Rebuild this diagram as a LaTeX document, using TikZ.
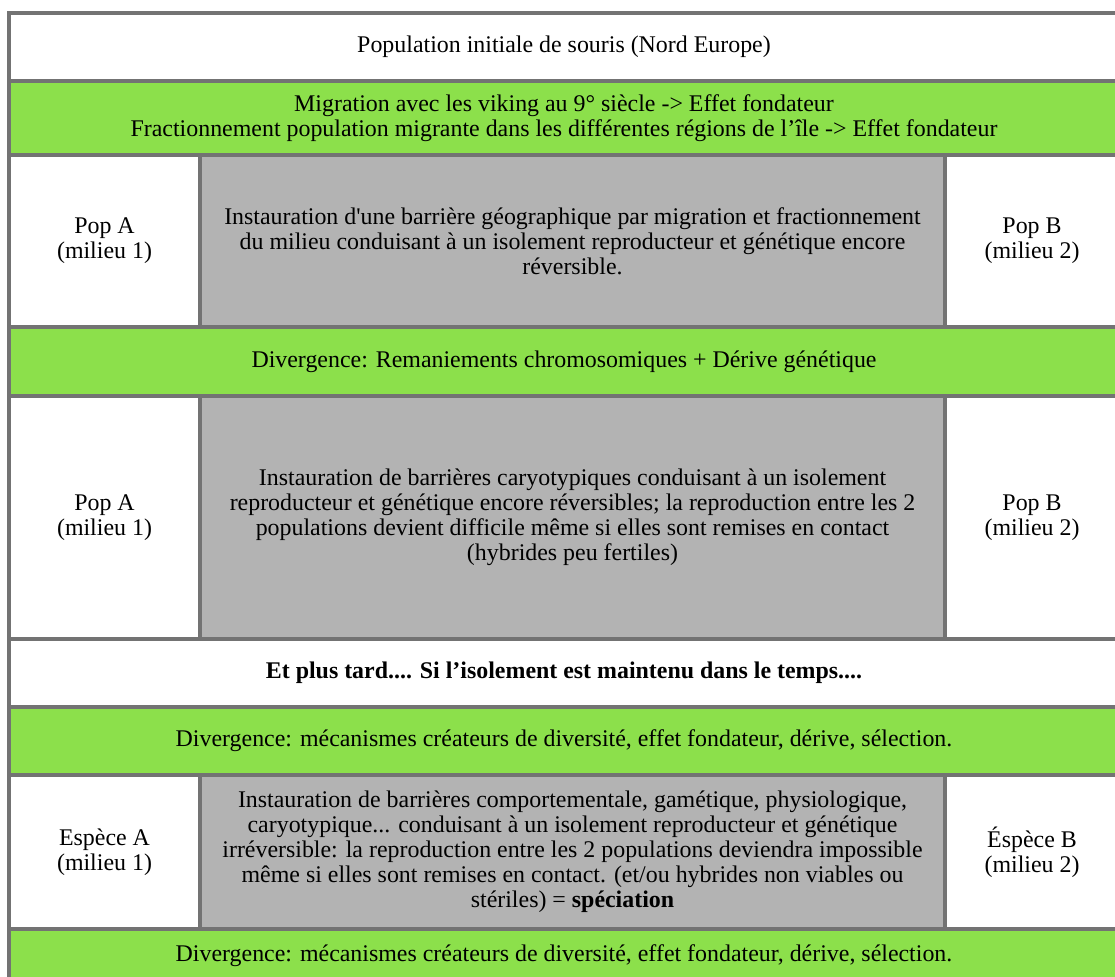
\documentclass[tikz,border=0pt]{standalone}
\usepackage{fontspec}
\setmainfont{Liberation Serif}
\definecolor{rulegray}{RGB}{115,115,115}
\definecolor{bandgreen}{RGB}{140,224,75}
\definecolor{barriergray}{RGB}{179,179,179}
\tikzset{
	cell/.style={rectangle, draw=rulegray, line width=4pt, inner sep=0pt, outer sep=0pt, align=center, font=\fontsize{23.9}{25}\selectfont},
	fullrow/.style={cell, fill=white, minimum width=1110pt},
	band/.style={fullrow, fill=bandgreen},
	popcell/.style={cell, fill=white},
	barrier/.style={cell, fill=barriergray, minimum width=745pt}
}

\begin{document}
\begin{tikzpicture}[x=1pt, y=-1pt]
			%%%%% START %%%%%
			\useasboundingbox (0, 0) rectangle (1115, 976);
			\clip (0, 0) rectangle (1115, 976);
			\fill[white] (0, 0) rectangle (1115, 976);
			
			\node[fullrow, minimum height=68pt] (souris) at (564, 47) {Population initiale de souris (Nord Europe)};
			\node[band, minimum height=74pt] (migration) at (564, 118) {Migration avec les viking au 9° siècle -> Effet fondateur\\Fractionnement population migrante dans les différentes régions de l’île -> Effet fondateur};
			
			\node[popcell, minimum width=191pt, minimum height=172pt] (popA1) at (104.5, 241) {Pop A\\(milieu 1)};
			\node[barrier, minimum height=172pt] (geo) at (572.5, 241) {Instauration d\textquotesingle une barrière géographique par migration et fractionnement\\du milieu conduisant à un isolement reproducteur et génétique encore\\réversible.};
			\node[popcell, minimum width=174pt, minimum height=172pt] (popB1) at (1032, 241) {Pop B\\(milieu 2)};
			
			\node[band, minimum height=69pt] (div1) at (564, 361.5) {Divergence: Remaniements chromosomiques + Dérive génétique};
			
			\node[popcell, minimum width=191pt, minimum height=243pt] (popA2) at (104.5, 517.5) {Pop A\\(milieu 1)};
			\node[barrier, minimum height=243pt] (caryo) at (572.5, 517.5) {Instauration de barrières caryotypiques conduisant à un isolement\\reproducteur et génétique encore réversibles; la reproduction entre les 2\\populations devient difficile même si elles sont remises en contact\\(hybrides peu fertiles)};
			\node[popcell, minimum width=174pt, minimum height=243pt] (popB2) at (1032, 517.5) {Pop B\\(milieu 2)};
			
			\node[fullrow, minimum height=68pt] (later) at (564, 673) {\textbf{Et plus tard.... Si l’isolement est maintenu dans le temps....}};
			\node[band, minimum height=68pt] (div2) at (564, 741) {Divergence: mécanismes créateurs de diversité, effet fondateur, dérive, sélection.};
			
			\node[popcell, minimum width=191pt, minimum height=154pt] (espA) at (104.5, 852) {Espèce A\\(milieu 1)};
			\node[barrier, minimum height=154pt] (speciation) at (572.5, 852) {Instauration de barrières comportementale, gamétique, physiologique,\\caryotypique... conduisant à un isolement reproducteur et génétique\\irréversible: la reproduction entre les 2 populations deviendra impossible\\même si elles sont remises en contact. (et/ou hybrides non viables ou\\stériles) = \textbf{spéciation}};
			\node[popcell, minimum width=174pt, minimum height=154pt] (espB) at (1032, 852) {Éspèce B\\(milieu 2)};
			
			\node[band, minimum height=54pt] (div3) at (564, 956) {Divergence: mécanismes créateurs de diversité, effet fondateur, dérive, sélection.};
			%%%%% END %%%%%
\end{tikzpicture}
\end{document}
